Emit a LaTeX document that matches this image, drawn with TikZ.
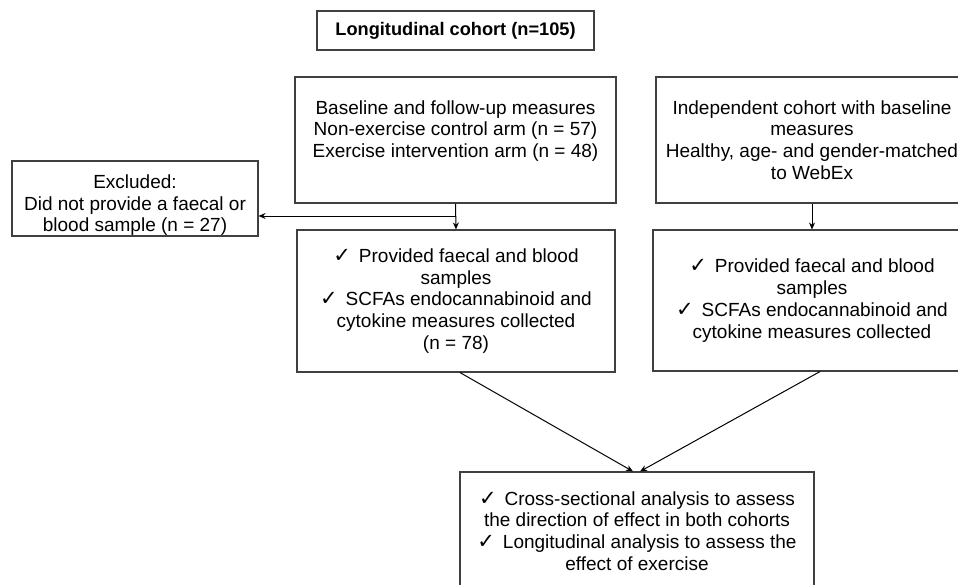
\documentclass[tikz,border=0pt]{standalone}
\usepackage{fontspec}
\setmainfont{Liberation Sans}
\newfontfamily\symfont{DejaVu Sans}
\usepackage{tikz}
\usetikzlibrary{arrows.meta}

\newcommand{\tick}{{\symfont\fontsize{21}{21}\selectfont ✓}\hspace{8pt}}

\begin{document}
\begin{tikzpicture}[x=1pt,y=-1pt,>={Stealth[length=7pt,width=6pt]},
  line width=1pt,
  box/.style={draw=black!75,line width=1.1pt,align=center,inner sep=2pt,
    font=\fontsize{19}{21.8}\selectfont},
  link/.style={->,draw=black}]

  \useasboundingbox (0,0) rectangle (958,584);

  \node[box,minimum width=277pt,minimum height=39pt,font=\fontsize{18.2}{20}\selectfont\bfseries] (title) at (455.5,30.5) {Longitudinal cohort (n=105)};

  \node[box,minimum width=321pt,minimum height=126pt] (base) at (455.5,140)
    {Baseline and follow-up measures\\ Non-exercise control arm (n = 57)\\ Exercise intervention arm (n = 48)\\ ~};
  \node[box,minimum width=312pt,minimum height=126pt] (indep) at (812,140)
    {Independent cohort with baseline\\ measures\\ Healthy, age- and gender-matched\\ to WebEx};
  \node[box,inner ysep=0pt,minimum width=246pt,minimum height=75pt] (excl) at (135,198.5)
    {\rule{0pt}{27pt}Excluded:\\ Did not provide a faecal or\\ blood sample (n = 27)};

  \node[box,minimum width=318pt,minimum height=142pt] (prov1) at (456,301)
    {\tick Provided faecal and blood\\ samples\\ \tick SCFAs endocannabinoid and\\ cytokine measures collected\\ (n = 78)};
  \node[box,minimum width=318pt,minimum height=141pt] (prov2) at (812,300.5)
    {\tick Provided faecal and blood\\ samples\\ \tick SCFAs endocannabinoid and\\ cytokine measures collected};

  \node[box,minimum width=354pt,minimum height=118pt] (both) at (637,531)
    {\tick Cross-sectional analysis to assess\\ the direction of effect in both cohorts\\ \tick Longitudinal analysis to assess the\\ effect of exercise};

  \coordinate (split) at (456,216);

  \draw[link] (base.south) -- (prov1.north);
  \draw[link] (split) -- (split -| excl.east);
  \draw[link] (indep.south) -- (prov2.north);
  \draw[link] ([xshift=4pt]prov1.south) -- ([xshift=-4pt]both.north);
  \draw[link] ([xshift=8pt]prov2.south) -- ([xshift=3pt]both.north);

\end{tikzpicture}
\end{document}
